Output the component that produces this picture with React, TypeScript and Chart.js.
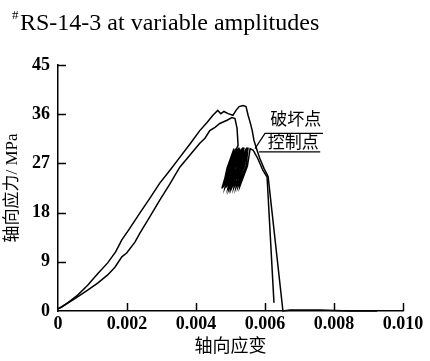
import React, { useEffect, useRef } from 'react';
import { Chart, registerables } from 'chart.js';

Chart.register(...registerables);

// ---- Data ----
const titleText = 'RS-14-3 at variable amplitudes';
const xTicks = [0, 0.002, 0.004, 0.006, 0.008, 0.01];
const xTickLabels = ['0', '0.002', '0.004', '0.006', '0.008', '0.010'];
const yTicks = [0, 9, 18, 27, 36, 45];
const yTickLabels = ['0', '9', '18', '27', '36', '45'];

// monotonic (upper-left) curve
const monoStrain = [0, 0.00011, 0.00028, 0.00057, 0.00086, 0.00115, 0.00144, 0.00167, 0.00185, 0.00208, 0.00237, 0.00266, 0.00295, 0.00324, 0.00353, 0.00382, 0.00411, 0.00432, 0.00449, 0.00463, 0.00472, 0.00481, 0.00493, 0.00507, 0.00516, 0.00525, 0.00536, 0.00545, 0.00551, 0.00557, 0.00563, 0.00568, 0.00577, 0.00585, 0.00597, 0.00609, 0.00652, 0.00673, 0.0076, 0.00847, 0.00925];
const monoStress = [0.4, 0.7, 1.5, 2.9, 4.7, 6.8, 8.8, 10.8, 13.0, 15.1, 17.9, 20.6, 23.4, 25.7, 28.1, 30.5, 33.0, 34.5, 35.8, 36.7, 36.1, 36.5, 36.1, 35.8, 36.7, 37.4, 37.6, 37.4, 35.8, 34.5, 33.0, 31.2, 29.4, 27.9, 26.1, 24.6, 0, 0.2, 0.2, 0, 0];

// variable-amplitude (cyclic) curve: loading branch, loops, post-peak branch
const cyclicStrain = [0, 0.00019, 0.00048, 0.00086, 0.00115, 0.00144, 0.00165, 0.00185, 0.00199, 0.00223, 0.00237, 0.00266, 0.00295, 0.00324, 0.00353, 0.00382, 0.00411, 0.00426, 0.0044, 0.00455, 0.00469, 0.0049, 0.00504, 0.00513, 0.00519, 0.00522,
  0.00493, 0.00475, 0.00501, 0.0051,
  0.0049, 0.00478, 0.00504, 0.00516,
  0.00494, 0.00484, 0.0051, 0.00519,
  0.00499, 0.00487, 0.00513, 0.00525,
  0.00503, 0.00493, 0.00519, 0.00527,
  0.00507, 0.00496, 0.00523, 0.00533,
  0.00511, 0.00501, 0.00527, 0.00536,
  0.00516, 0.00504, 0.00532, 0.00539,
  0.0052, 0.0051, 0.00536, 0.00545,
  0.00525, 0.00516, 0.0054, 0.00548,
  0.00529, 0.00522, 0.00545, 0.00551,
  0.00533, 0.00527, 0.00549, 0.00557,
  0.00566, 0.00579, 0.00594, 0.00606, 0.00626];
const cyclicStress = [0.4, 1.1, 2.2, 3.8, 5.1, 6.6, 8.0, 9.9, 10.6, 12.6, 14.2, 17.2, 20.3, 23.2, 26.3, 28.5, 30.7, 31.6, 33.0, 33.6, 34.3, 34.9, 35.4, 35.2, 33.4, 30.3,
  26.3, 22.4, 26.5, 29.7,
  26.1, 22.6, 26.5, 29.7,
  26.1, 22.6, 26.5, 29.7,
  26.1, 22.6, 26.5, 29.9,
  26.1, 22.6, 26.5, 29.7,
  26.1, 22.4, 26.5, 29.7,
  26.1, 22.6, 26.5, 29.9,
  26.1, 22.6, 26.5, 29.9,
  26.1, 22.6, 26.5, 29.7,
  26.1, 22.6, 26.5, 29.9,
  26.3, 22.8, 26.5, 29.9,
  26.3, 22.8, 26.5, 29.7,
  29.4, 27.9, 25.7, 24.5, 1.5];

const failureLabel = '破坏点';
const controlLabel = '控制点';

const serif = '"Liberation Serif", "Times New Roman", serif';
const cjk = '"Liberation Serif", "Noto Sans CJK SC", sans-serif';

const toPts = (xs: number[], ys: number[]) => xs.map((v, i) => ({ x: v, y: ys[i] }));

const decorPlugin = {
  id: 'decor',
  afterDraw(chart: any) {
    const { ctx } = chart;
    const x = chart.scales.x;
    const y = chart.scales.y;
    ctx.save();
    ctx.strokeStyle = '#000';
    ctx.lineWidth = 1.5;
    // inward tick marks
    xTicks.forEach((v) => {
      if (v === 0) return;
      const px = Math.round(x.getPixelForValue(v)) + 0.5;
      ctx.beginPath();
      ctx.moveTo(px, y.bottom);
      ctx.lineTo(px, y.bottom - 8);
      ctx.stroke();
    });
    yTicks.forEach((v) => {
      if (v === 0) return;
      const py = Math.round(y.getPixelForValue(v)) + 0.5;
      ctx.beginPath();
      ctx.moveTo(x.left, py);
      ctx.lineTo(x.left + 8, py);
      ctx.stroke();
    });
    // title
    ctx.fillStyle = '#000';
    ctx.textBaseline = 'alphabetic';
    ctx.textAlign = 'left';
    ctx.font = '13px ' + serif;
    ctx.fillText('#', 12, 19);
    ctx.font = '24px ' + serif;
    ctx.fillText(titleText, 20, 30);
    // annotations
    const X = (v: number) => x.getPixelForValue(v);
    const Y = (v: number) => y.getPixelForValue(v);
    ctx.lineWidth = 1.2;
    ctx.font = '17px ' + cjk;
    ctx.textBaseline = 'middle';
    ctx.fillText(failureLabel, X(0.00615), Y(34.9));
    ctx.beginPath();
    ctx.moveTo(X(0.00571), Y(29.7));
    ctx.lineTo(X(0.006), Y(32.5));
    ctx.lineTo(X(0.00768), Y(32.5));
    ctx.stroke();
    ctx.fillText(controlLabel, X(0.00608), Y(30.7));
    ctx.beginPath();
    ctx.moveTo(X(0.00583), Y(29.1));
    ctx.lineTo(X(0.0076), Y(29.1));
    ctx.stroke();
    ctx.restore();
  },
};

export default function App() {
  const ref = useRef<HTMLCanvasElement | null>(null);
  useEffect(() => {
    if (!ref.current) return;
    const chart = new Chart(ref.current, {
      type: 'scatter',
      data: {
        datasets: [
          {
            data: toPts(monoStrain, monoStress),
            showLine: true,
            borderColor: '#000',
            borderWidth: 1.5,
            pointRadius: 0,
            tension: 0,
            clip: 6,
          } as any,
          {
            data: toPts(cyclicStrain, cyclicStress),
            showLine: true,
            borderColor: '#000',
            borderWidth: 1.5,
            pointRadius: 0,
            tension: 0,
            clip: 6,
          } as any,
        ],
      },
      options: {
        responsive: false,
        animation: false,
        devicePixelRatio: 1,
        layout: { padding: { left: 0, top: 65, right: 27, bottom: 0 } },
        plugins: { legend: { display: false }, tooltip: { enabled: false }, title: { display: false } },
        scales: {
          x: {
            type: 'linear',
            min: 0,
            max: 0.01,
            afterBuildTicks: (s: any) => { s.ticks = xTicks.map((v) => ({ value: v })); },
            afterFit: (s: any) => { s.height = 50; },
            grid: { display: false, drawTicks: false },
            border: { display: true, color: '#000', width: 1.5 },
            ticks: {
              padding: 3,
              color: '#000',
              font: { family: serif, size: 18, weight: 'bold' },
              maxRotation: 0,
              callback: (v: any) => {
                const i = xTicks.findIndex((t) => Math.abs(t - v) < 1e-9);
                return i >= 0 ? xTickLabels[i] : '';
              },
            },
            title: {
              display: true,
              text: '轴向应变',
              color: '#000',
              font: { family: cjk, size: 18 },
              padding: { top: 0, bottom: 3 },
            },
          },
          y: {
            type: 'linear',
            min: 0,
            max: 45,
            afterBuildTicks: (s: any) => { s.ticks = yTicks.map((v) => ({ value: v })); },
            afterFit: (s: any) => { s.width = 58; },
            grid: { display: false, drawTicks: false },
            border: { display: true, color: '#000', width: 1.5 },
            ticks: {
              padding: 8,
              color: '#000',
              font: { family: serif, size: 18, weight: 'bold' },
              callback: (v: any) => {
                const i = yTicks.findIndex((t) => Math.abs(t - v) < 1e-9);
                return i >= 0 ? yTickLabels[i] : '';
              },
            },
            title: {
              display: true,
              text: '轴向应力/ MPa',
              color: '#000',
              font: { family: cjk, size: 17 },
              padding: { top: 2, bottom: 0 },
            },
          },
        },
      },
      plugins: [decorPlugin],
    });
    return () => chart.destroy();
  }, []);
  return (
    <div style={{ position: 'absolute', left: 0, top: 0, width: 430, height: 361, background: '#fff' }}>
      <canvas ref={ref} width={430} height={361} />
    </div>
  );
}
